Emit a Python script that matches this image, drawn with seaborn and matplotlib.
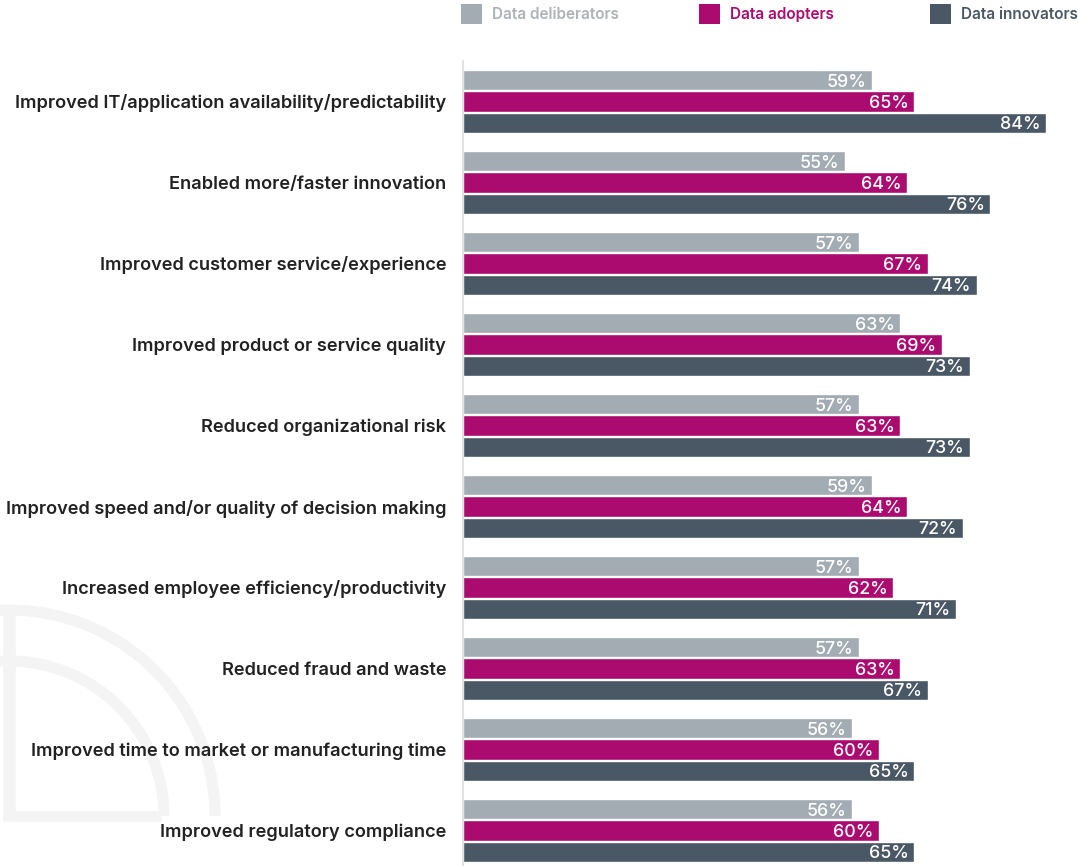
import matplotlib
matplotlib.use("Agg")
import matplotlib.pyplot as plt
from matplotlib.patches import Arc, Rectangle
import pandas as pd
import seaborn as sns

categories = [
    "Improved IT/application availability/predictability",
    "Enabled more/faster innovation",
    "Improved customer service/experience",
    "Improved product or service quality",
    "Reduced organizational risk",
    "Improved speed and/or quality of decision making",
    "Increased employee efficiency/productivity",
    "Reduced fraud and waste",
    "Improved time to market or manufacturing time",
    "Improved regulatory compliance",
]
series = ["Data deliberators", "Data adopters", "Data innovators"]
deliberators = [59, 55, 57, 63, 57, 59, 57, 57, 56, 56]
adopters = [65, 64, 67, 69, 63, 64, 62, 63, 60, 60]
innovators = [84, 76, 74, 73, 73, 72, 71, 67, 65, 65]

colors = ["#a3acb2", "#ab0a6e", "#4a5866"]

df = pd.DataFrame({
    "category": categories * 3,
    "group": sum([[s] * len(categories) for s in series], []),
    "value": deliberators + adopters + innovators,
})

sns.set_theme(style="white")
plt.rcParams["font.family"] = ["Inter", "DejaVu Sans"]

W, H = 1078, 866
fig = plt.figure(figsize=(W / 100, H / 100), dpi=100)

# faint decorative outline in the lower-left corner (pixel coordinates, y down)
bg = fig.add_axes([0, 0, 1, 1], zorder=-5)
bg.set_xlim(0, W)
bg.set_ylim(H, 0)
bg.axis("off")
wm = "#f4f4f4"
cx, cy = 9, 816
for r in (155, 206):
    bg.add_patch(Arc((cx, cy), 2 * r, 2 * r, theta1=180, theta2=360,
                     color=wm, lw=8))
bg.plot([cx, cx], [612, cy + 5], color=wm, lw=9, solid_capstyle="butt")
bg.plot([cx, cx + 152], [cy, cy], color=wm, lw=8, solid_capstyle="butt")

px_per_unit = 6.94
x0 = 463
top = 61
ax = fig.add_axes([x0 / W, 0, (W - x0) / W, 1 - top / H])
ax.patch.set_alpha(0)

sns.barplot(data=df, y="category", x="value", hue="group", order=categories,
            hue_order=series, palette=colors, width=0.78, gap=0.05,
            orient="h", saturation=1, legend=False, ax=ax)

ax.set_xlim(0, (W - x0) / px_per_unit)
ax.set_ylim(9.5 - 5 / 81, -0.5)
ax.set_xlabel("")
ax.set_ylabel("")
ax.set_xticks([])
for s in ("top", "right", "bottom"):
    ax.spines[s].set_visible(False)
ax.spines["left"].set_color("#dcdcdc")
ax.spines["left"].set_linewidth(1.2)
ax.tick_params(axis="y", length=0, pad=12)
for lbl in ax.get_yticklabels():
    lbl.set_fontsize(13.1)
    lbl.set_fontweight("semibold")
    lbl.set_color("#222222")

for cont in ax.containers:
    texts = ax.bar_label(cont, labels=[f"{v:.0f}%" for v in cont.datavalues],
                         padding=-4, color="white", fontsize=12.8,
                         fontweight="medium", label_type="edge")
    for t in texts:
        t.set_horizontalalignment("right")
        t.set_verticalalignment("center_baseline")

# legend row across the top
legend_items = [(461, "Data deliberators", colors[0], "#aeb3b7"),
                (699, "Data adopters", colors[1], colors[1]),
                (930, "Data innovators", colors[2], colors[2])]
for xpx, text, fc, tc in legend_items:
    bg.add_patch(Rectangle((xpx, 4), 21, 20, facecolor=fc, edgecolor="none"))
    bg.text(xpx + 31, 14.5, text, ha="left", va="center", fontsize=11,
            fontweight="semibold", color=tc)

fig.savefig("out.png", dpi=100)
